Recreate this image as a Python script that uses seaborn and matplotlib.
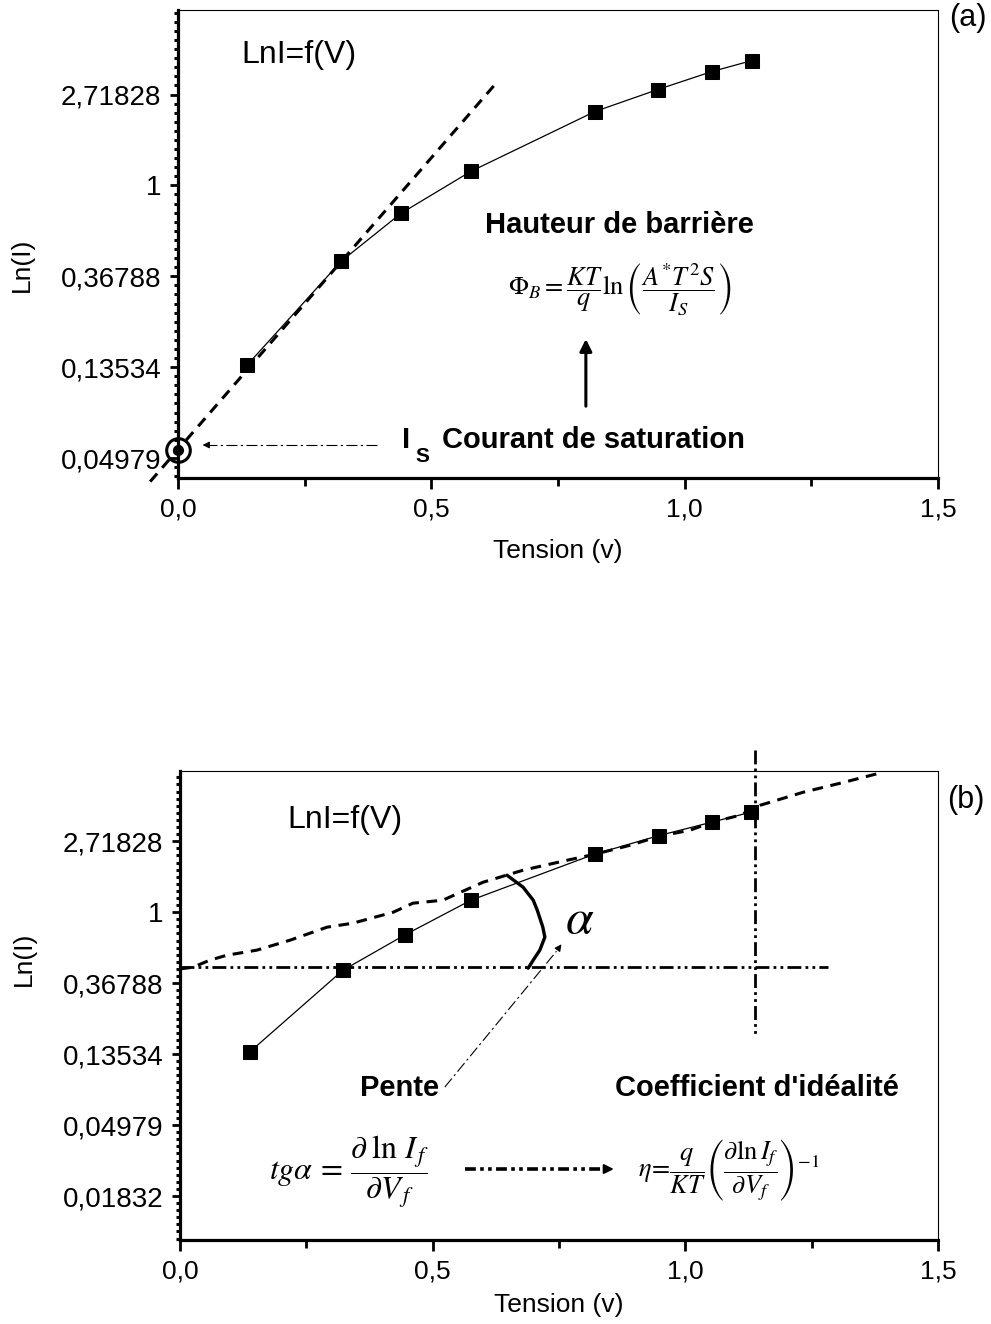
import numpy as np
import matplotlib
matplotlib.use("Agg")
import matplotlib.pyplot as plt
import seaborn as sns
from matplotlib.ticker import FixedLocator, MultipleLocator

# ---------------- data ----------------
tension_a = [0.136, 0.322, 0.440, 0.578, 0.823, 0.947, 1.054, 1.133]
ln_i_a = [-1.98, -0.835, -0.308, 0.154, 0.813, 1.055, 1.253, 1.374]

tension_b = [0.138, 0.322, 0.445, 0.576, 0.821, 0.948, 1.053, 1.130]
ln_i_b = [-1.97, -0.82, -0.32, 0.17, 0.82, 1.08, 1.27, 1.41]

# extrapolated straight line (panel a)
fit_a_x = [-0.055, 0.624]
fit_a_y = [-3.26, 1.10]

# saturation-current point (panel a)
is_x = [0.0]
is_y = [-2.91]

# wavy dashed curve (panel b)
wavy_x = [0.0, 0.026, 0.059, 0.093, 0.152, 0.218, 0.291, 0.342, 0.422, 0.461,
          0.520, 0.600, 0.679, 0.766, 0.821, 0.891, 0.948, 1.009, 1.053, 1.108,
          1.148, 1.233, 1.306, 1.391]
wavy_y = [-0.80, -0.775, -0.676, -0.606, -0.535, -0.394, -0.211, -0.155, 0.0, 0.127,
          0.169, 0.423, 0.592, 0.732, 0.817, 0.944, 1.07, 1.155, 1.268, 1.366,
          1.507, 1.69, 1.817, 1.972]

# angle arc (panel b)
arc_x = [0.647, 0.679, 0.699, 0.707, 0.718, 0.722, 0.712, 0.699, 0.689]
arc_y = [0.521, 0.352, 0.169, 0.028, -0.211, -0.352, -0.535, -0.676, -0.789]

# reference lines (panel b)
hline_x = [0.0, 1.282]
hline_y = [-0.775, -0.775]
vline_x = [1.138, 1.138]
vline_y = [2.28, -1.73]

# ticks
xticks = [0.0, 0.5, 1.0, 1.5]
xticklabels = ["0,0", "0,5", "1,0", "1,5"]
yticks_a = [-3, -2, -1, 0, 1]
yticklabels_a = ["0,04979", "0,13534", "0,36788", "1", "2,71828"]
yticks_b = [-4, -3, -2, -1, 0, 1]
yticklabels_b = ["0,01832", "0,04979", "0,13534", "0,36788", "1", "2,71828"]

# ---------------- style ----------------
sns.set_theme(style="ticks")
plt.rcParams["font.family"] = ["Liberation Sans", "DejaVu Sans"]
plt.rcParams["mathtext.fontset"] = "stix"
plt.rcParams["axes.edgecolor"] = "black"
plt.rcParams["text.color"] = "black"
plt.rcParams["axes.labelcolor"] = "black"
plt.rcParams["xtick.color"] = "black"
plt.rcParams["ytick.color"] = "black"

fig = plt.figure(figsize=(9.91, 13.24), dpi=100)
ax_a = fig.add_axes([178 / 991, 1 - 478 / 1324, 760 / 991, 468 / 1324])
ax_b = fig.add_axes([180 / 991, 1 - 1240 / 1324, 758 / 991, 469 / 1324])

DASH = (0, (3.5, 2.5))
DDOT = (0, (5, 1.5, 1, 1.5, 1, 1.5))
THIN_DD = (0, (10, 3, 2, 3))


def style_axes(ax, ylim, yticks, ylabels, ylab_y, xlab_y):
    ax.set_xlim(0, 1.5)
    ax.set_ylim(*ylim)
    ax.xaxis.set_major_locator(FixedLocator(xticks))
    ax.set_xticklabels(xticklabels)
    ax.xaxis.set_minor_locator(MultipleLocator(0.25))
    ax.yaxis.set_major_locator(FixedLocator(yticks))
    ax.set_yticklabels(ylabels)
    ax.yaxis.set_minor_locator(MultipleLocator(0.1))
    for s in ["left", "bottom"]:
        ax.spines[s].set_linewidth(2.3)
    for s in ["top", "right"]:
        ax.spines[s].set_linewidth(0.8)
    ax.tick_params(axis="both", which="both", direction="out", colors="black",
                   top=False, right=False)
    ax.tick_params(axis="y", which="major", length=6, width=2, pad=6, labelsize=20)
    ax.tick_params(axis="y", which="minor", length=3, width=2.2)
    ax.tick_params(axis="x", which="major", length=8, width=2, pad=6, labelsize=19)
    ax.tick_params(axis="x", which="minor", length=6, width=2)
    ax.set_xlabel("Tension (v)", fontsize=19)
    ax.set_ylabel("Ln(I)", fontsize=19)
    ax.xaxis.set_label_coords(0.5, xlab_y)
    ax.yaxis.set_label_coords(-0.19, ylab_y)
    ax.set_facecolor("white")


# ---------------- panel (a) ----------------
ax = ax_a
sns.lineplot(x=tension_a, y=ln_i_a, ax=ax, color="black", linewidth=0.9,
             marker="s", markersize=10, markeredgecolor="black", sort=False)
ax.plot(fit_a_x, fit_a_y, color="black", lw=2.2, linestyle=DASH, clip_on=False)
ax.plot(is_x, is_y, marker="o", markersize=17, markerfacecolor="none",
        markeredgecolor="black", markeredgewidth=2.2, clip_on=False, zorder=5)
ax.plot(is_x, is_y, marker="o", markersize=7, color="black", clip_on=False, zorder=5)
ax.plot([0.393, 0.06], [-2.857, -2.857], color="black", lw=0.8, linestyle=THIN_DD)
ax.annotate("", xy=(0.043, -2.857), xytext=(0.065, -2.857),
            arrowprops=dict(arrowstyle="-|>", color="black", lw=0.8, mutation_scale=10))
ax.text(0.443, -2.80, "I", fontsize=21, fontweight="bold", ha="left", va="center")
ax.text(0.469, -2.98, "S", fontsize=15, fontweight="bold", ha="left", va="center")
ax.text(0.522, -2.80, "Courant de saturation", fontsize=21, fontweight="bold",
        ha="left", va="center")
ax.annotate("", xy=(0.805, -1.66), xytext=(0.805, -2.46),
            arrowprops=dict(arrowstyle="-|>", color="black", lw=2.2, mutation_scale=18))
ax.text(0.872, -0.44, "Hauteur de barrière", fontsize=21, fontweight="bold",
        ha="center", va="center")
ax.text(0.872, -1.14,
        r"$\Phi_B = \dfrac{KT}{q}\ln\left(\dfrac{A^{*}T^{2}S}{I_S}\right)$",
        fontsize=19, ha="center", va="center")
ax.text(0.126, 1.44, "LnI=f(V)", fontsize=23, ha="left", va="center")
style_axes(ax, (-3.22, 1.93), yticks_a, yticklabels_a, 0.455, -0.13)

# ---------------- panel (b) ----------------
ax = ax_b
ax.plot(hline_x, hline_y, color="black", lw=2.0, linestyle=DDOT, zorder=2)
ax.plot(vline_x, vline_y, color="black", lw=2.0, linestyle=DDOT, clip_on=False, zorder=2)
sns.lineplot(x=wavy_x, y=wavy_y, ax=ax, color="black", linewidth=2.2,
             linestyle=DASH, sort=False, clip_on=False)
sns.lineplot(x=tension_b, y=ln_i_b, ax=ax, color="black", linewidth=0.9,
             marker="s", markersize=10, markeredgecolor="black", sort=False)
ax.plot(arc_x, arc_y, color="black", lw=2.4)
ax.plot([0.524, 0.745], [-2.465, -0.55], color="black", lw=0.8, linestyle=THIN_DD)
ax.annotate("", xy=(0.758, -0.42), xytext=(0.745, -0.55),
            arrowprops=dict(arrowstyle="-|>", color="black", lw=0.8, mutation_scale=10))
ax.text(0.762, -0.113, r"$\alpha$", fontsize=36, ha="left", va="center")
ax.text(0.435, -2.48, "Pente", fontsize=21, fontweight="bold", ha="center", va="center")
ax.text(1.142, -2.48, "Coefficient d'idéalité", fontsize=21, fontweight="bold",
        ha="center", va="center")
ax.text(0.334, -3.66, r"$tg\alpha\,=\,\dfrac{\partial\;\ln\,I_{\,f}}{\partial V_{\,f}}$",
        fontsize=23, ha="center", va="center")
ax.plot([0.563, 0.84], [-3.62, -3.62], color="black", lw=2.6,
        linestyle=(0, (3, 1.2, 1, 1.2, 1, 1.2)))
ax.annotate("", xy=(0.864, -3.62), xytext=(0.84, -3.62),
            arrowprops=dict(arrowstyle="-|>", color="black", lw=1.5, mutation_scale=14))
ax.text(1.085, -3.63,
        r"$\eta\!=\!\dfrac{q}{KT}\left(\dfrac{\partial\ln I_f}{\partial V_f}\right)^{-1}$",
        fontsize=19, ha="center", va="center")
ax.text(0.212, 1.30, "LnI=f(V)", fontsize=23, ha="left", va="center")
style_axes(ax, (-4.62, 1.99), yticks_b, yticklabels_b, 0.60, -0.112)

fig.text(968 / 991, 1 - 18 / 1324, "(a)", fontsize=22, ha="center", va="center")
fig.text(966 / 991, 1 - 800 / 1324, "(b)", fontsize=22, ha="center", va="center")

fig.savefig("out.png", dpi=100, facecolor="white")
